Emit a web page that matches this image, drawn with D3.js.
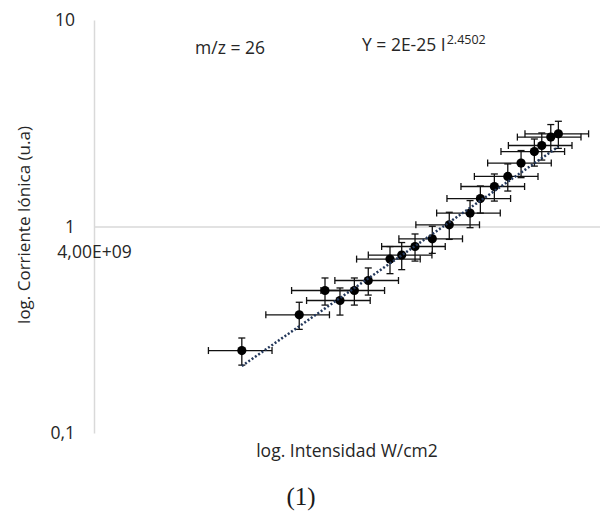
<!DOCTYPE html>
<html>
<head>
<meta charset="utf-8">
<script src="https://cdn.jsdelivr.net/npm/d3@7"></script>
<style>
  html, body { margin: 0; padding: 0; background: #fff; }
  svg { font-family: "Open Sans", "DejaVu Sans", sans-serif; }
</style>
</head>
<body>
<div id="chart"></div>
<script>
// Laser intensity (W/cm2) and ion current (a.u.) for m/z = 26
const intensity = [6.376e9, 7.642e9, 8.289e9, 8.690e9, 9.093e9, 9.501e9, 1.0175e10, 1.0558e10,
                   1.1011e10, 1.1627e10, 1.2267e10, 1.3098e10, 1.3531e10, 1.4142e10, 1.4753e10,
                   1.5384e10, 1.6044e10, 1.6423e10, 1.6896e10, 1.7306e10];
const current   = [0.2508, 0.3736, 0.4898, 0.4382, 0.4898, 0.5477, 0.6953, 0.7271,
                   0.8000, 0.8718, 1.019, 1.161, 1.366, 1.562, 1.747,
                   2.028, 2.307, 2.468, 2.710, 2.811];

// Percentage error bars
const xErrPct = 0.10;
const yErrPct = 0.15;

// Power-law fit Y = a * I^b
const fitCoef = 2e-25;
const fitExp = 2.4502;

// Axis ticks
const yTickValues = [0.1, 1, 10];
const yTickLabels = ["0,1", "1", "10"];
const xTickValues = [4e9];
const xTickLabels = ["4,00E+09"];

const W = 600, H = 515;
const textColor = "#262626";
const fs = 17.5;
const svg = d3.select("#chart").append("svg").attr("width", W).attr("height", H);

const x = d3.scaleLog().domain([4e9, 4e10]).range([94, 824]);
const y = d3.scaleLog().domain([0.1, 10]).range([433, 20]);

const axisColor = "#d9d9d9";

// Vertical axis
const yAxis = svg.append("g")
  .attr("transform", `translate(${x(4e9)},0)`)
  .call(d3.axisLeft(y).tickValues(yTickValues).tickSize(0).tickPadding(19)
    .tickFormat((d, i) => yTickLabels[i]));
yAxis.select(".domain").attr("stroke", axisColor).attr("stroke-width", 1.5);
yAxis.selectAll("text").style("font-size", fs + "px").style("font-family", "'Open Sans', sans-serif").style("fill", textColor);

// Horizontal axis crossing at 1
const xAxis = svg.append("g")
  .attr("transform", `translate(0,${y(1)})`)
  .call(d3.axisBottom(x).tickValues(xTickValues).tickSize(0).tickPadding(19)
    .tickFormat((d, i) => xTickLabels[i]));
xAxis.select(".domain").attr("stroke", axisColor).attr("stroke-width", 1.5);
xAxis.selectAll("text").style("font-size", fs + "px").style("font-family", "'Open Sans', sans-serif").style("fill", textColor);

const pts = intensity.map((v, i) => ({ i: v, c: current[i] }));
const cap = 3.5;
const eb = svg.append("g").attr("stroke", "#111").attr("stroke-width", 1.3).attr("fill", "none");

pts.forEach(p => {
  const cx = x(p.i), cy = y(p.c);
  const x0 = x(p.i * (1 - xErrPct)), x1 = x(p.i * (1 + xErrPct));
  const y0 = y(p.c * (1 - yErrPct)), y1 = y(p.c * (1 + yErrPct));
  eb.append("line").attr("x1", x0).attr("x2", x1).attr("y1", cy).attr("y2", cy);
  eb.append("line").attr("x1", x0).attr("x2", x0).attr("y1", cy - cap).attr("y2", cy + cap);
  eb.append("line").attr("x1", x1).attr("x2", x1).attr("y1", cy - cap).attr("y2", cy + cap);
  eb.append("line").attr("x1", cx).attr("x2", cx).attr("y1", y0).attr("y2", y1);
  eb.append("line").attr("x1", cx - cap).attr("x2", cx + cap).attr("y1", y0).attr("y2", y0);
  eb.append("line").attr("x1", cx - cap).attr("x2", cx + cap).attr("y1", y1).attr("y2", y1);
});

svg.append("g").selectAll("circle").data(pts).join("circle")
  .attr("cx", d => x(d.i)).attr("cy", d => y(d.c)).attr("r", 4.6).attr("fill", "#000");

// Trendline over the data range
const [iMin, iMax] = d3.extent(intensity);
const fitPts = d3.range(0, 41).map(k => {
  const iv = iMin * Math.pow(iMax / iMin, k / 40);
  return [iv, fitCoef * Math.pow(iv, fitExp)];
});
svg.append("path")
  .attr("d", d3.line().x(d => x(d[0])).y(d => y(d[1]))(fitPts))
  .attr("fill", "none").attr("stroke", "#23375a").attr("stroke-width", 2.5)
  .attr("stroke-dasharray", "2,2");

// Annotations
svg.append("text").attr("x", 230).attr("y", 54).attr("text-anchor", "middle")
  .style("font-size", fs + "px").style("fill", textColor).text("m/z = 26");

const eq = svg.append("text").attr("x", 362).attr("y", 50.5)
  .style("font-size", fs + "px").style("fill", textColor);
eq.append("tspan").text("Y = 2E-25 I");
eq.append("tspan").style("font-size", "12.5px").attr("dy", -6.5).attr("dx", 1).text("2.4502");

// Axis titles
svg.append("text").attr("x", 347).attr("y", 457).attr("text-anchor", "middle")
  .style("font-size", fs + "px").style("fill", textColor).text("log. Intensidad W/cm2");

svg.append("text").attr("transform", "translate(30,225) rotate(-90)").attr("text-anchor", "middle")
  .style("font-size", "17px").style("fill", textColor).text("log. Corriente Iónica (u.a)");

svg.append("text").attr("x", 301).attr("y", 505).attr("text-anchor", "middle")
  .style("font-family", "'Liberation Serif', 'DejaVu Serif', serif").style("font-size", "25px")
  .style("fill", "#1a1a1a").text("(1)");
</script>
</body>
</html>
